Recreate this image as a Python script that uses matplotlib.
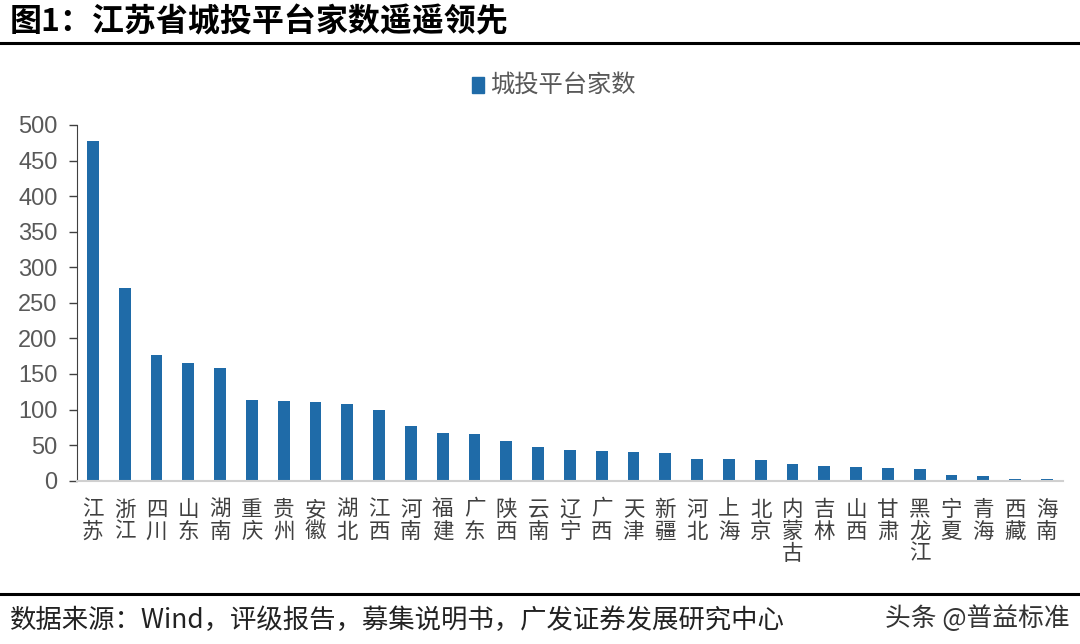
import matplotlib
matplotlib.use("Agg")
import matplotlib.pyplot as plt
from matplotlib.patches import Rectangle

plt.rcParams['font.family'] = ['Noto Sans CJK SC', 'DejaVu Sans']

# 省份（从高到低）
provinces = ["江苏", "浙江", "四川", "山东", "湖南", "重庆", "贵州", "安徽", "湖北", "江西",
             "河南", "福建", "广东", "陕西", "云南", "辽宁", "广西", "天津", "新疆", "河北",
             "上海", "北京", "内蒙古", "吉林", "山西", "甘肃", "黑龙江", "宁夏", "青海", "西藏",
             "海南"]
counts = [477, 271, 176, 166, 158, 114, 112, 111, 108, 99,
          77, 67, 66, 56, 47, 43, 42, 41, 39, 31,
          30, 29, 23, 20, 19, 18, 16, 8, 6, 3,
          2]
yticks = [0, 50, 100, 150, 200, 250, 300, 350, 400, 450, 500]

title = "图1：江苏省城投平台家数遥遥领先"
legend_label = "城投平台家数"
source = "数据来源：Wind，评级报告，募集说明书，广发证券发展研究中心"
watermark = "头条 @普益标准"

BLUE = "#1F6BA8"
GRAY = "#595959"


def main():
    fig = plt.figure(figsize=(10.8, 6.44), dpi=100)

    # title + rules
    fig.text(0.009, 0.966, title, fontsize=23, fontweight="bold", color="black",
             ha="left", va="center")
    fig.add_artist(plt.Line2D([0, 1], [0.933, 0.933], color="black", lw=2.2,
                              transform=fig.transFigure))
    fig.add_artist(plt.Line2D([0, 1], [0.077, 0.077], color="black", lw=2.2,
                              transform=fig.transFigure))

    ax = fig.add_axes([0.0713, 0.2536, 0.9127, 0.5524])
    x = range(len(provinces))
    ax.bar(x, counts, width=0.37, color=BLUE, label=legend_label, zorder=2)

    ax.set_xlim(-0.5, len(provinces) - 0.5)
    ax.set_ylim(0, 500)
    ax.set_yticks(yticks)
    ax.set_yticklabels([str(v) for v in yticks], fontsize=17, color=GRAY,
                       family="Liberation Sans")
    ax.tick_params(axis="y", length=6, width=1, color="#404040", pad=8)

    ax.set_xticks(list(x))
    ax.set_xticklabels(["\n".join(p) for p in provinces], fontsize=15.5, color="#404040",
                       linespacing=1.0, va="top")
    ax.tick_params(axis="x", length=0, pad=13)

    ax.spines['top'].set_visible(False)
    ax.spines['right'].set_visible(False)
    ax.spines['left'].set_color("#404040")
    ax.spines['bottom'].set_color("#D0D0D0")
    ax.spines['bottom'].set_linewidth(1.5)

    # legend
    fig.add_artist(Rectangle((0.437, 0.855), 0.011, 0.026, color=BLUE,
                             transform=fig.transFigure))
    fig.text(0.454, 0.868, legend_label, fontsize=17.5, color=GRAY, ha="left", va="center")

    # footer
    fig.text(0.009, 0.037, source, fontsize=19, color="#222222", ha="left", va="center")
    fig.text(0.99, 0.04, watermark, fontsize=18.5, color="#333333", ha="right", va="center")

    plt.savefig("out.png", dpi=100)


if __name__ == '__main__':
    main()
